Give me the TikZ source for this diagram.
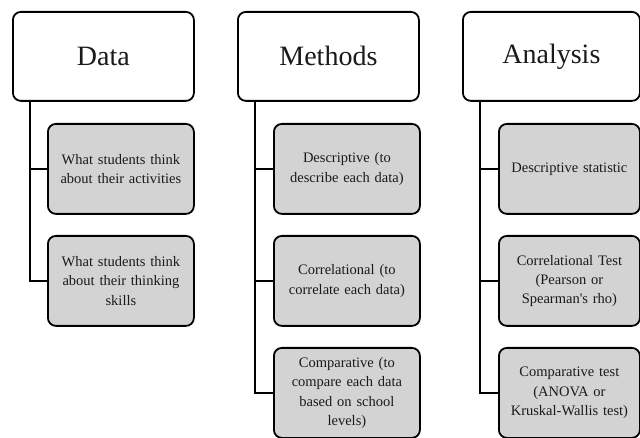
\documentclass[tikz,border=0pt]{standalone}
\usepackage{fontspec}
\setmainfont{Liberation Serif}
\definecolor{subfill}{RGB}{211,211,211}
\definecolor{txt}{RGB}{26,26,26}
\begin{document}
\begin{tikzpicture}[x=1pt,y=-1pt,
  head/.style={draw, line width=1.8pt, rounded corners=8pt, fill=white, minimum height=89pt, minimum width=181pt, font=\fontsize{28}{33}\selectfont, anchor=north west, inner sep=0pt, text=txt},
  sub/.style={draw, line width=1.8pt, rounded corners=8pt, fill=subfill, minimum height=90pt, text width=138pt, inner xsep=4pt, inner ysep=2pt, font=\fontsize{14.5}{19.3}\selectfont, align=center, anchor=north west, text=txt},
  link/.style={line width=1.8pt}]
\useasboundingbox (0,0) rectangle (640,438);
% Data column
\node[head] (d) at (12,11) {Data};
\node[sub] (d1) at (47,123) {What students think\\about their activities};
\node[sub] (d2) at (47,235) {What students think\\about their thinking\\skills};
% Methods column
\node[head] (m) at (237,11) {Methods};
\node[sub] (m1) at (273,123) {Descriptive (to\\describe each data)};
\node[sub] (m2) at (273,235) {Correlational (to\\correlate each data)};
\node[sub] (m3) at (273,347) {Comparative (to\\compare each data\\based on school\\levels)};
% Analysis column
\node[head, minimum width=177pt] (a) at (462,11) {Analysis};
\node[sub, text width=133pt] (a1) at (498,123) {Descriptive statistic};
\node[sub, text width=133pt] (a2) at (498,235) {Correlational Test\\(Pearson or\\Spearman\textquotesingle s rho)};
\node[sub, text width=133pt] (a3) at (498,347) {Comparative test\\(ANOVA or\\Kruskal-Wallis test)};
% connectors
\draw[link] ([xshift=18pt]d.south west) |- (d1.west);
\draw[link] ([xshift=18pt]d.south west) |- (d2.west);
\draw[link] ([xshift=18pt]m.south west) |- (m1.west);
\draw[link] ([xshift=18pt]m.south west) |- (m2.west);
\draw[link] ([xshift=18pt]m.south west) |- (m3.west);
\draw[link] ([xshift=18pt]a.south west) |- (a1.west);
\draw[link] ([xshift=18pt]a.south west) |- (a2.west);
\draw[link] ([xshift=18pt]a.south west) |- (a3.west);
\end{tikzpicture}
\end{document}
